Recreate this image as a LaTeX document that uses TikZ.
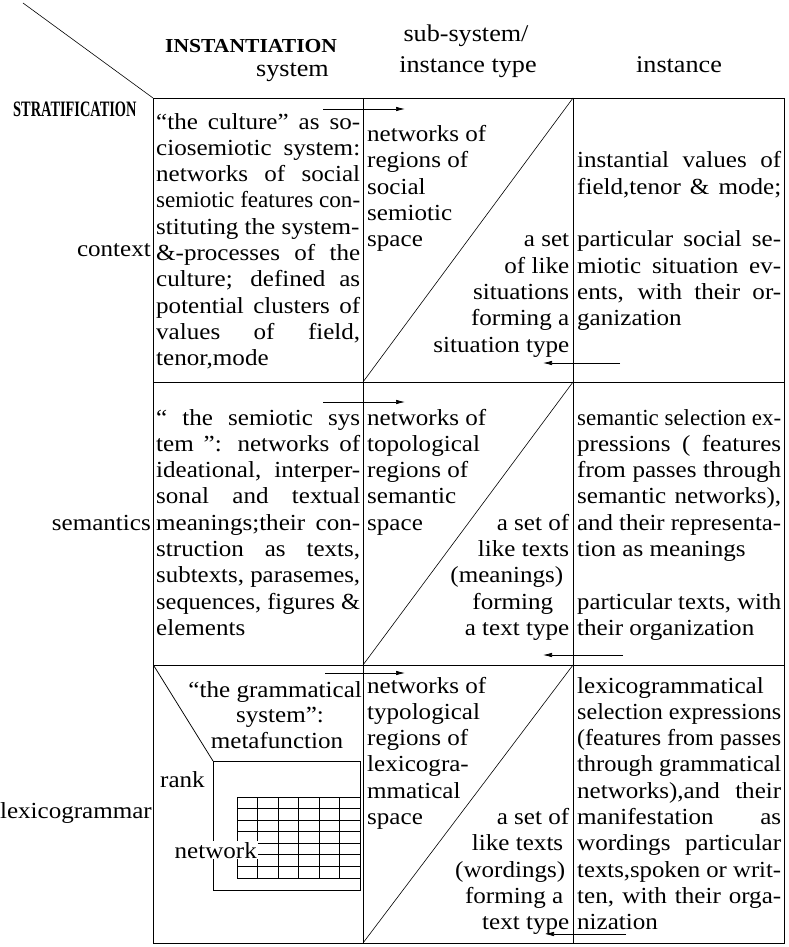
\documentclass[tikz,border=0pt]{standalone}
\usepackage{fontspec}
\setmainfont{Liberation Serif}[FakeStretch=1.09]
\usetikzlibrary{arrows.meta}
\newcommand\bodyfont{\fontsize{23}{26.3}\selectfont\lineskiplimit=-30pt\relax}
\newcommand\hdrfont{\fontsize{24}{28}\selectfont}
\newcommand\hdrbold{\fontsize{19.8}{24}\selectfont\bfseries}
\newsavebox\linebox
\newcommand\fitline[2]{\sbox\linebox{#1}\ifdim\wd\linebox>\hsize
  \hbox to\hsize{\resizebox{\hsize}{\height}{\usebox\linebox}}\else
  \hbox to\hsize{#2}\fi}
\newcommand\cJ[1]{\fitline{#1}{#1}}
\newcommand\cL[1]{\fitline{#1}{#1\hfil}}
\newcommand\cR[1]{\fitline{#1}{\hfil#1}}
\newcommand\cLR[2]{\fitline{#1\ #2}{#1\hfil#2}}
\newcommand\cB{\hbox{}}
\newcommand\cellbox[2][204pt]{\vtop{\hsize=#1\relax\bodyfont #2}}
\tikzset{
  cell/.style={anchor=base west, inner sep=0pt},
  lbl/.style={anchor=base east, inner sep=0pt, font=\bodyfont},
  hdr/.style={anchor=base, inner sep=0pt, font=\hdrfont},
  frame/.style={line width=0.9pt},
  diag/.style={line width=0.6pt},
  arr/.style={line width=0.7pt, -{Latex[length=9pt,width=4.5pt]}},
  thinline/.style={line width=0.75pt}
}
\begin{document}
\begin{tikzpicture}[x=1pt,y=-1pt]
\useasboundingbox (0,0) rectangle (788,947);
% grid corners
\coordinate (TL) at (153,98);
\coordinate (BR) at (784,943);
\coordinate (c1t) at (363,98);  \coordinate (c1b) at (363,943);
\coordinate (c2t) at (573,98);  \coordinate (c2b) at (573,943);
\coordinate (r1l) at (153,382); \coordinate (r1r) at (784,382);
\coordinate (r2l) at (153,665); \coordinate (r2r) at (784,665);
\coordinate (m1) at (363,382); \coordinate (m2) at (363,665);
\coordinate (n1) at (573,382); \coordinate (n2) at (573,665);
\coordinate (corner) at (23,3);
\draw[frame] (TL) rectangle (BR);
\draw[frame] (c1t) -- (c1b) (c2t) -- (c2b) (r1l) -- (r1r) (r2l) -- (r2r);
\draw[diag] (corner) -- (TL);
\draw[diag] (m1) -- (c2t);
\draw[diag] (m2) -- (n1);
\draw[diag] (c1b) -- (n2);
% arrows
\coordinate (a1s) at (323,109); \coordinate (a1e) at (405,109);
\coordinate (a2s) at (323,402); \coordinate (a2e) at (405,402);
\coordinate (a3s) at (325,673); \coordinate (a3e) at (405,673);
\coordinate (b1s) at (620,363); \coordinate (b1e) at (543,363);
\coordinate (b2s) at (623,655); \coordinate (b2e) at (543,655);
\coordinate (b3s) at (626,934); \coordinate (b3e) at (545,934);
\draw[arr] (a1s) -- (a1e);
\draw[arr] (a2s) -- (a2e);
\draw[arr] (a3s) -- (a3e);
\draw[arr] (b1s) -- (b1e);
\draw[arr] (b2s) -- (b2e);
\draw[arr] (b3s) -- (b3e);
% headers
\node[anchor=base west, inner sep=0pt, font=\hdrbold] (hinst) at (165,53) {INSTANTIATION};
\node[anchor=base east, inner sep=0pt, font=\hdrfont] (hsys) at (329,77) {system};
\node[hdr] (hsub) at (466,42) {sub-system/};
\node[hdr] (htype) at (468,73) {instance type};
\node[hdr] (hinstance) at (679,73) {instance};
\node[anchor=base west, inner sep=0pt] (hstrat) at (13,117) {\scalebox{0.6}[1]{\fontsize{22}{24}\selectfont\bfseries STRATIFICATION}};
% row labels
\node[lbl] (lctx) at (151,256) {context};
\node[lbl] (lsem) at (151,530) {semantics};
\node[lbl] (llex) at (152,818) {lexicogrammar};
% row 1
\node[cell] (s1) at (156,129) {\cellbox{%
\cJ{“the culture” as so-}%
\cJ{ciosemiotic system:}%
\cJ{networks of social}%
\cJ{semiotic features con-}%
\cL{stituting the system-}%
\cJ{\&-processes of the}%
\cJ{culture; defined as}%
\cJ{potential clusters of}%
\cJ{values of field,}%
\cL{tenor,mode}}};
\node[cell] (t1) at (367,141.6) {\cellbox[202pt]{%
\cL{networks of}%
\cL{regions of}%
\cL{social}%
\cL{semiotic}%
\cLR{space}{a set}%
\cR{of like}%
\cR{situations}%
\cR{forming a}%
\cR{situation type}}};
\node[cell] (i1) at (577,167.9) {\cellbox{%
\cJ{instantial values of}%
\cJ{field,tenor \& mode;}%
\cB
\cJ{particular social se-}%
\cJ{miotic situation ev-}%
\cJ{ents, with their or-}%
\cL{ganization}}};
% row 2
\node[cell] (s2) at (156,425) {\cellbox{%
\cJ{“ the semiotic sys}%
\cJ{tem ”: networks of}%
\cJ{ideational, interper-}%
\cJ{sonal and textual}%
\cJ{meanings;their con-}%
\cJ{struction as texts,}%
\cJ{subtexts, parasemes,}%
\cJ{sequences, figures \&}%
\cL{elements}}};
\node[cell] (t2) at (367,425) {\cellbox[202pt]{%
\cL{networks of}%
\cL{topological}%
\cL{regions of}%
\cL{semantic}%
\cLR{space}{a set of}%
\cR{like texts}%
\cR{(meanings)\hspace{6pt}}%
\cR{forming\hspace{16pt}}%
\cR{a text type}}};
\node[cell] (i2) at (577,425) {\cellbox{%
\cJ{semantic selection ex-}%
\cJ{pressions ( features}%
\cJ{from passes through}%
\cJ{semantic networks),}%
\cJ{and their representa-}%
\cL{tion as meanings}%
\cB
\cJ{particular texts, with}%
\cL{their organization}}};
% row 3
\node[anchor=base east, inner sep=0pt, font=\bodyfont] (g1) at (362,697) {“the grammatical};
\node[anchor=base, inner sep=0pt, font=\bodyfont] (g2) at (280,722) {system”:};
\node[anchor=base, inner sep=0pt, font=\bodyfont] (g3) at (277,748) {metafunction};
\coordinate (gbl) at (154,666);
\coordinate (gb1) at (213,761);
\coordinate (gb2) at (360,890);
\draw[thinline] (gbl) -- (gb1);
\draw[thinline] (gb1) rectangle (gb2);
\foreach \i in {0,...,7} \draw[thinline] (237,797+\i*11.57) -- (360,797+\i*11.57);
\foreach \j in {0,...,6} \draw[thinline] (237+\j*20.5,797) -- (237+\j*20.5,878);
\node[anchor=base west, inner sep=0pt, font=\bodyfont] (grank) at (160,787) {rank};
\node[anchor=base east, inner sep=1pt, fill=white, font=\bodyfont] (gnet) at (258,858) {network};
\node[cell] (t3) at (367,693) {\cellbox[202pt]{%
\cL{networks of}%
\cL{typological}%
\cL{regions of}%
\cL{lexicogra-}%
\cL{mmatical}%
\cLR{space}{a set of}%
\cR{like texts\hspace{6pt}}%
\cR{(wordings)\hspace{4pt}}%
\cR{forming a\hspace{6pt}}%
\cR{text type}}};
\node[cell] (i3) at (577,693) {\cellbox{%
\cL{lexicogrammatical}%
\cJ{selection expressions}%
\cJ{(features from passes}%
\cJ{through grammatical}%
\cJ{networks),and their}%
\cJ{manifestation as}%
\cJ{wordings particular}%
\cJ{texts,spoken or writ-}%
\cJ{ten, with their orga-}%
\cL{nization}}};
\end{tikzpicture}
\end{document}
